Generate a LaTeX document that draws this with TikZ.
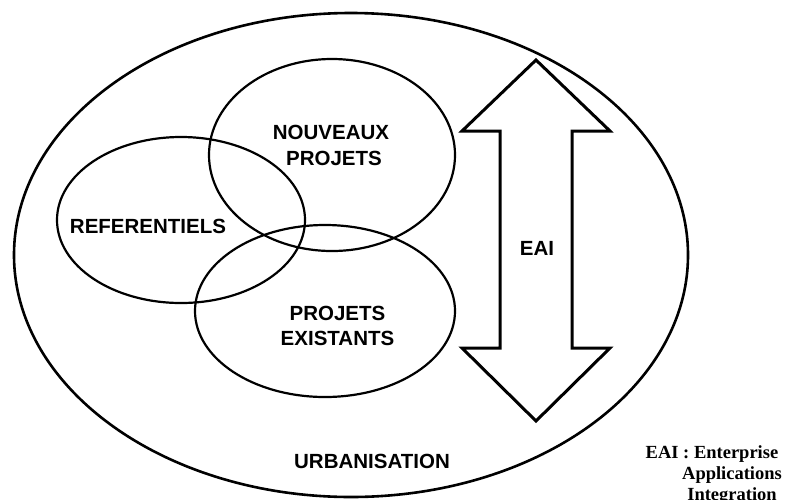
\documentclass[tikz,border=0pt]{standalone}
\usepackage{fontspec}
\setmainfont{Liberation Serif}
\newfontfamily\lsans{Liberation Sans}
\begin{document}
\begin{tikzpicture}[x=1pt,y=-1pt,
  ring/.style={line width=2.2pt,draw=black},
  outerring/.style={line width=2.6pt,draw=black},
  eaiarrow/.style={line width=3pt,draw=black,fill=white,line join=miter},
  lbl/.style={font=\lsans\bfseries\fontsize{20.5}{26}\selectfont,inner sep=0pt,anchor=base},
  note/.style={font=\bfseries\fontsize{18.5}{21}\selectfont,inner sep=0pt,anchor=base}]
\useasboundingbox (0,0) rectangle (792,499);
% outer ellipse
\draw[outerring] (351,255) ellipse [x radius=337pt, y radius=242pt];
% inner ellipses
\draw[ring] (181,220) ellipse [x radius=124pt, y radius=83pt];
\draw[ring] (332,155) ellipse [x radius=123pt, y radius=96pt];
\draw[ring] (325,311) ellipse [x radius=130pt, y radius=86pt];
% EAI double arrow
\coordinate (tipT) at (536,60);
\coordinate (tipB) at (536,421);
\draw[eaiarrow] (tipT) -- (462,131) -- (500,131) -- (500,348) -- (462,348)
  -- (tipB) -- (610,348) -- (572,348) -- (572,131) -- (610,131) -- cycle;
% labels
\node[lbl] (ref) at (148,233) {REFERENTIELS};
\node[lbl] (nouv1) at (331,139) {NOUVEAUX};
\node[lbl] (nouv2) at (334,165) {PROJETS};
\node[lbl] (exi1) at (337.5,320) {PROJETS};
\node[lbl] (exi2) at (337.5,345) {EXISTANTS};
\node[lbl] (eai) at (537,255) {EAI};
\node[lbl] (urb) at (372,468) {URBANISATION};
% footnote
\node[note] (n1) at (712,458) {EAI : Enterprise};
\node[note] (n2) at (732,479) {Applications};
\node[note] (n3) at (732,500) {Integration};
\end{tikzpicture}
\end{document}
